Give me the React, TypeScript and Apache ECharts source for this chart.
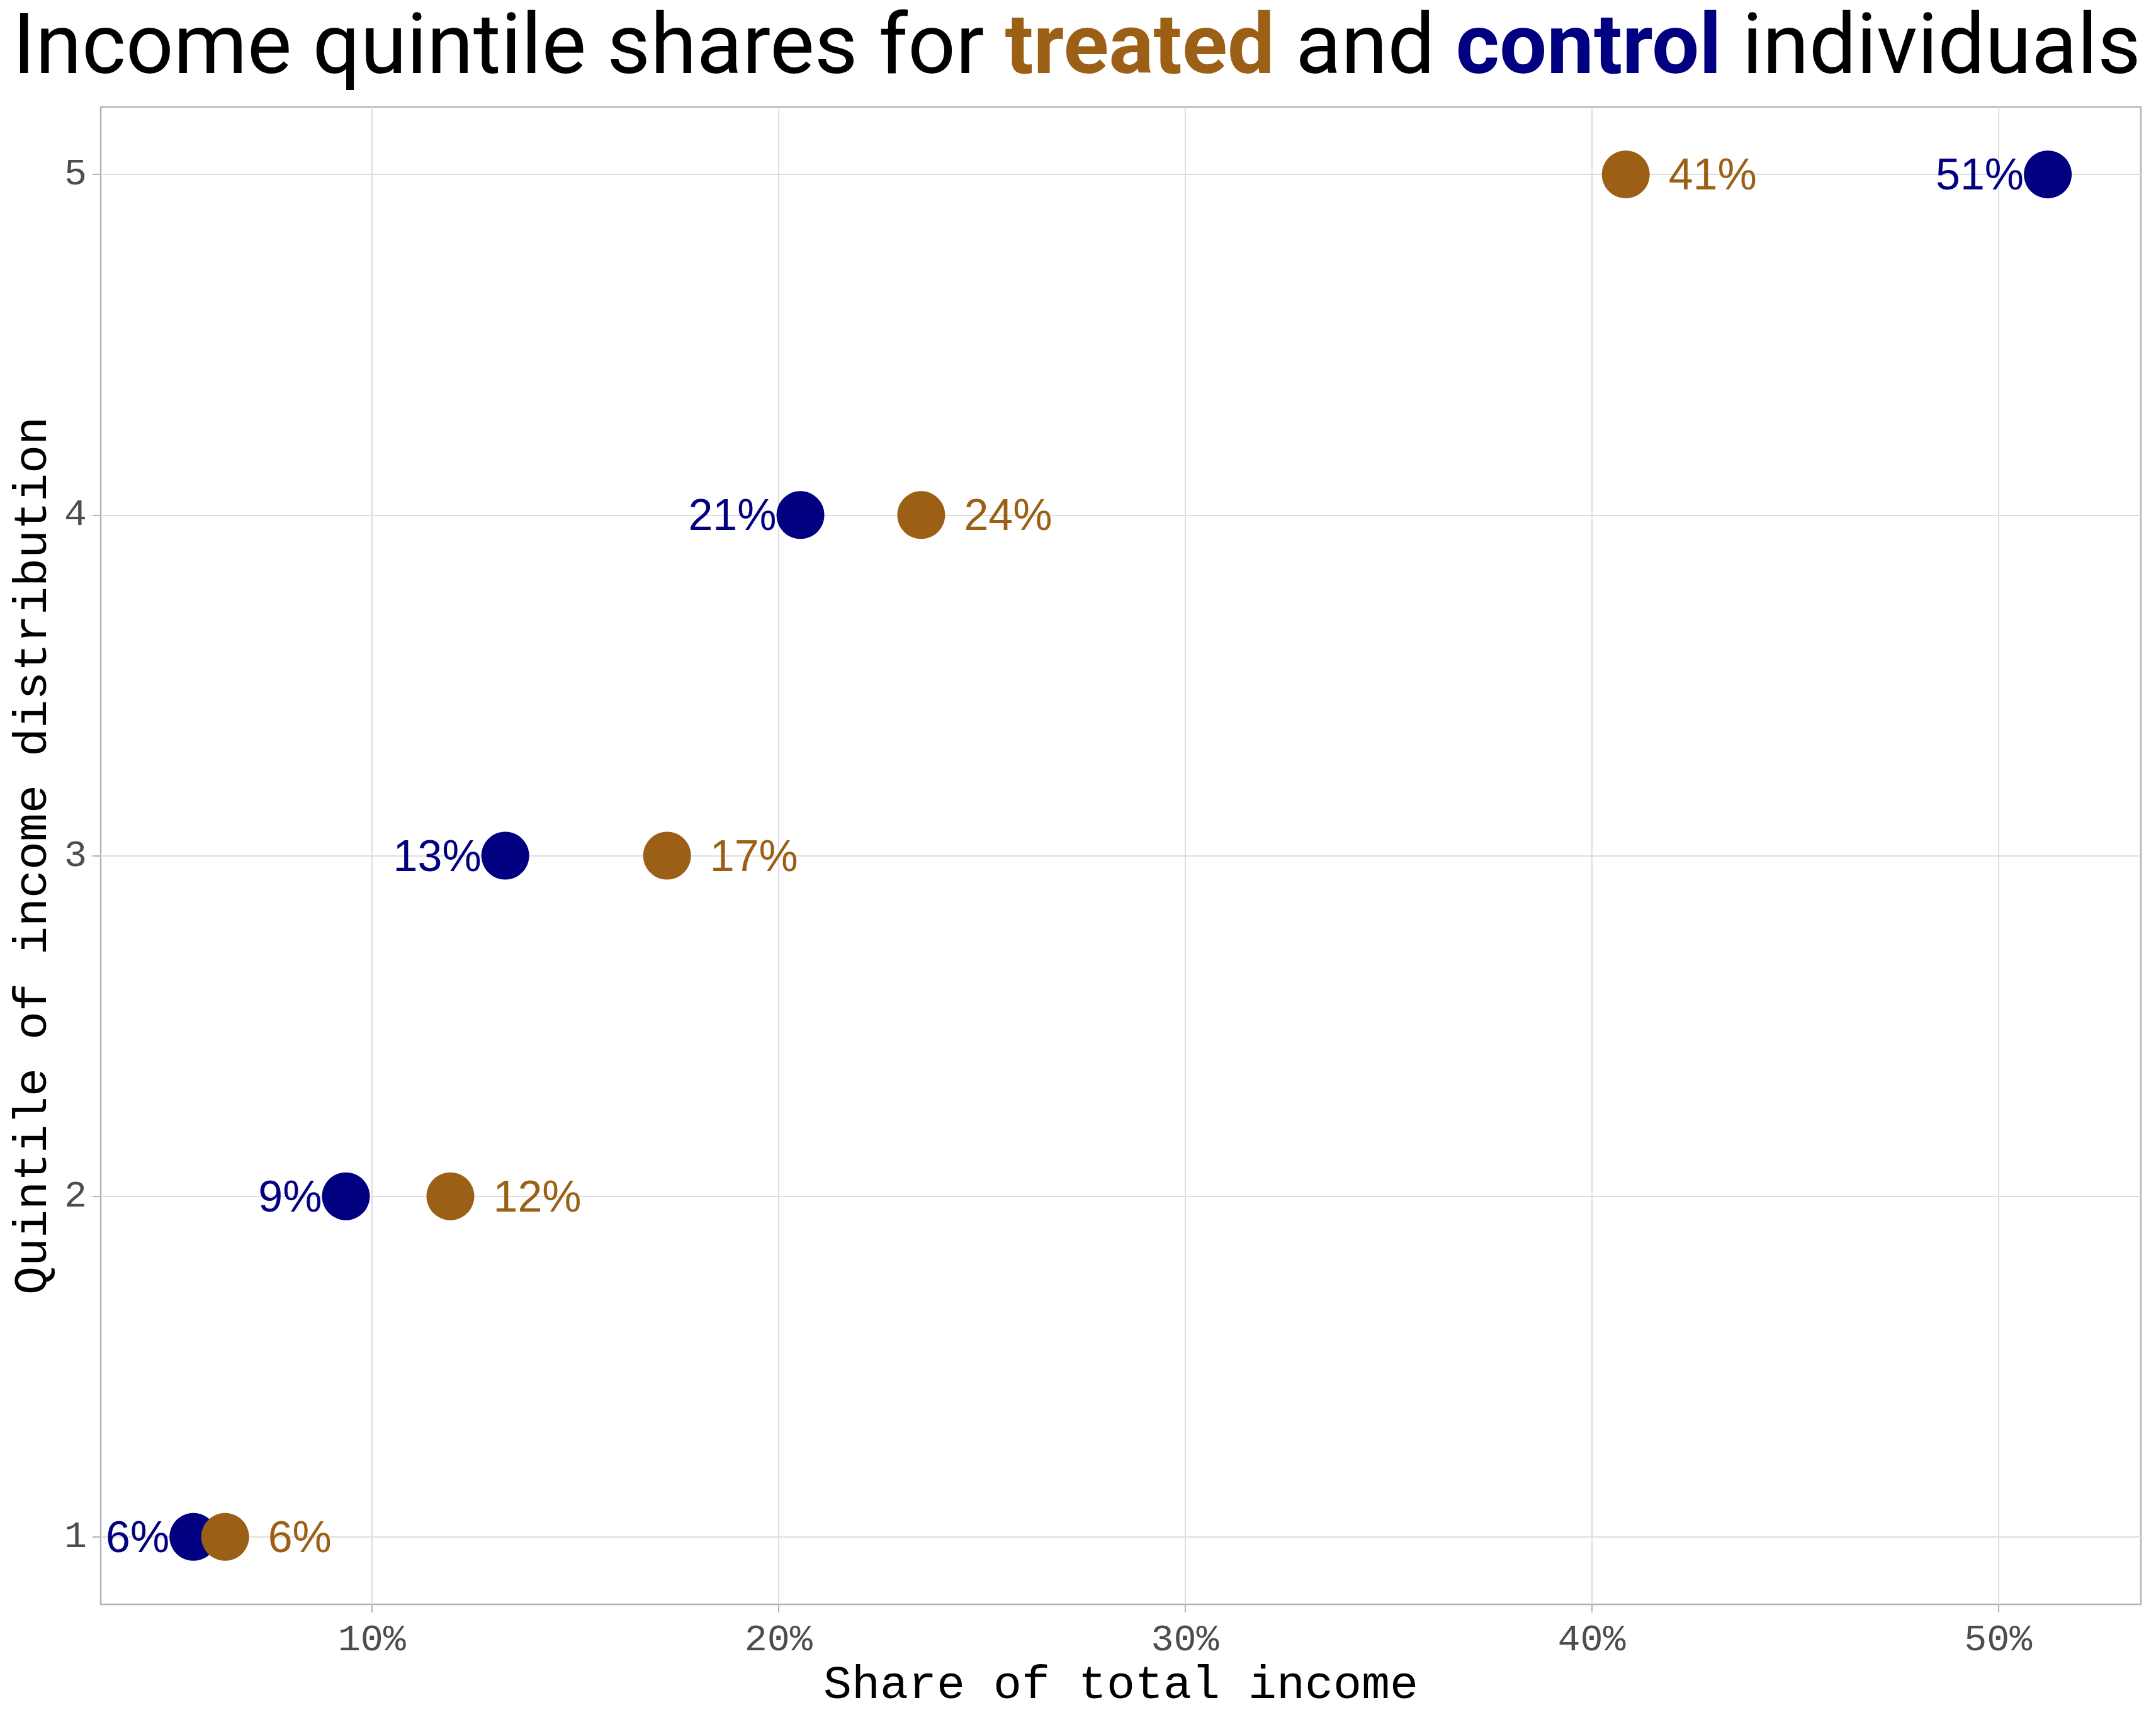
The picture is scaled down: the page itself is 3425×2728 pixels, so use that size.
import React, { useEffect, useRef } from "react";
import * as echarts from "echarts";

const quintiles = [1, 2, 3, 4, 5];
const treatedShares = [6.39, 11.93, 17.26, 23.51, 40.84];
const controlShares = [5.61, 9.36, 13.28, 20.54, 51.22];
const xTickValues = [10, 20, 30, 40, 50];
const yTickValues = [1, 2, 3, 4, 5];

const TREATED = "#9C5F16";
const CONTROL = "#000080";
const MONO = "Liberation Mono";

export default function App() {
  const ref = useRef<HTMLDivElement>(null);
  useEffect(() => {
    document.body.style.margin = "0";
    if (!ref.current) return;
    const chart = echarts.init(ref.current, null, { renderer: "svg" });
    const labelBase = { show: true, fontFamily: "Liberation Sans", fontSize: 70 };
    chart.setOption({
      animation: false,
      backgroundColor: "#ffffff",
      title: {
        left: 20,
        top: 4,
        padding: 0,
        text: "Income quintile shares for {t|treated} and {c|control} individuals",
        textStyle: {
          fontFamily: "Roboto",
          fontSize: 133.4,
          fontWeight: "normal",
          color: "#000000",
          rich: {
            t: { fontFamily: "Roboto", fontSize: 133.4, fontWeight: "bold", color: TREATED },
            c: { fontFamily: "Roboto", fontSize: 133.4, fontWeight: "bold", color: CONTROL },
          },
        },
      },
      grid: {
        left: 160,
        right: 24,
        top: 170,
        bottom: 179,
        outerBoundsMode: "none",
        containLabel: false,
        show: true,
        borderColor: "#b3b3b3",
        borderWidth: 2.5,
        backgroundColor: "transparent",
      },
      xAxis: {
        type: "value",
        min: 3.33,
        max: 53.51,
        name: "Share of total income",
        nameLocation: "middle",
        nameGap: 63,
        nameTextStyle: { fontFamily: MONO, fontSize: 75, color: "#000000" },
        axisLine: { show: false },
        axisTick: {
          show: true,
          customValues: xTickValues,
          length: 13,
          lineStyle: { color: "#b3b3b3", width: 2 },
        },
        axisLabel: {
          customValues: xTickValues,
          formatter: "{value}%",
          fontFamily: MONO,
          fontSize: 60,
          color: "#4d4d4d",
          margin: 27,
        },
        splitLine: { show: true, lineStyle: { color: "#dedede", width: 2 } },
      },
      yAxis: {
        type: "value",
        min: 0.802,
        max: 5.198,
        name: "Quintile of income distribution",
        nameLocation: "middle",
        nameGap: 65,
        nameRotate: 90,
        nameTextStyle: { fontFamily: MONO, fontSize: 75, color: "#000000" },
        axisLine: { show: false },
        axisTick: {
          show: true,
          customValues: yTickValues,
          length: 13,
          lineStyle: { color: "#b3b3b3", width: 2 },
        },
        axisLabel: {
          customValues: yTickValues,
          fontFamily: MONO,
          fontSize: 60,
          color: "#4d4d4d",
          margin: 22,
        },
        splitLine: { show: true, lineStyle: { color: "#dedede", width: 2 } },
      },
      series: [
        {
          name: "control",
          type: "scatter",
          symbol: "circle",
          symbolSize: 76,
          itemStyle: { color: CONTROL, opacity: 1 },
          data: quintiles.map((q, i) => [controlShares[i], q]),
          label: {
            ...labelBase,
            position: "left",
            distance: 0,
            color: CONTROL,
            formatter: (p: any) => Math.round(p.value[0]) + "%",
          },
        },
        {
          name: "treated",
          type: "scatter",
          symbol: "circle",
          symbolSize: 76,
          itemStyle: { color: TREATED, opacity: 1 },
          data: quintiles.map((q, i) => [treatedShares[i], q]),
          label: {
            ...labelBase,
            position: "right",
            distance: 30,
            color: TREATED,
            formatter: (p: any) => Math.round(p.value[0]) + "%",
          },
        },
      ],
    });
    return () => chart.dispose();
  }, []);
  return <div ref={ref} style={{ width: 3425, height: 2728 }} />;
}
